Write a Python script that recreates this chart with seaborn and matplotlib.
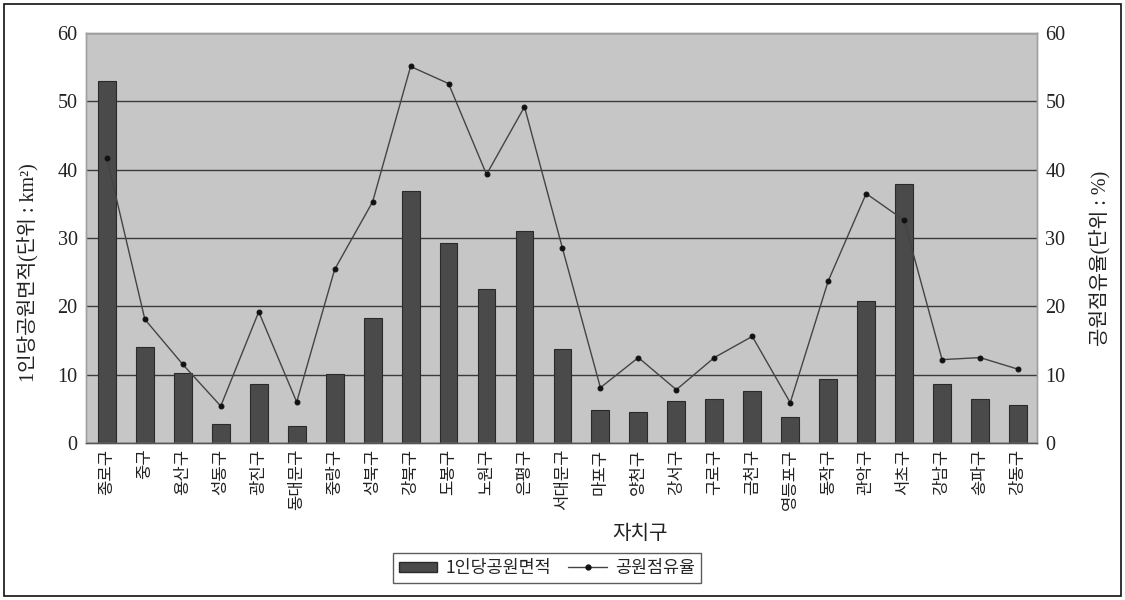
import matplotlib
matplotlib.use('Agg')
import matplotlib.pyplot as plt
import matplotlib.patches as mpatches
from matplotlib.lines import Line2D
import seaborn as sns
import pandas as pd

# ── data ───────────────────────────────────────────────────────────────────
districts = ['종로구', '중구', '용산구', '성동구', '광진구', '동대문구', '중랑구',
             '성북구', '강북구', '도봉구', '노원구', '은평구', '서대문구', '마포구',
             '양천구', '강서구', '구로구', '금천구', '영등포구', '동작구', '관악구',
             '서초구', '강남구', '송파구', '강동구']
park_area = [53.0, 14.1, 10.2, 2.8, 8.6, 2.5, 10.1, 18.3, 36.9, 29.2, 22.6, 31.0,
             13.7, 4.8, 4.5, 6.2, 6.4, 7.6, 3.8, 9.3, 20.8, 37.9, 8.7, 6.4, 5.6]
park_share = [41.7, 18.1, 11.5, 5.4, 19.2, 6.0, 25.4, 35.3, 55.1, 52.6, 39.3, 49.2,
              28.5, 8.1, 12.5, 7.8, 12.5, 15.6, 5.9, 23.7, 36.5, 32.6, 12.2, 12.5, 10.8]
y_ticks = [0, 10, 20, 30, 40, 50, 60]

df = pd.DataFrame({'구': districts, 'area': park_area, 'share': park_share})

# ── style ──────────────────────────────────────────────────────────────────
sns.set_style('white')
plt.rcParams['font.family'] = ['Liberation Serif', 'Noto Sans CJK KR', 'DejaVu Sans']
plt.rcParams['axes.unicode_minus'] = False

BG = '#c6c6c6'
BAR = '#4a4a4a'
GRID = '#3a3a3a'
TXT = '#222222'

fig = plt.figure(figsize=(11.25, 6), dpi=100)
ax = fig.add_axes([86 / 1125, 1 - 443 / 600, (1037 - 86) / 1125, (443 - 33) / 600])
ax.set_facecolor(BG)
ax.set_axisbelow(True)

sns.barplot(data=df, x='구', y='area', ax=ax, color=BAR, width=0.47,
            edgecolor='#2a2a2a', linewidth=0.8, saturation=1)
ax.set_ylim(0, 60)
ax.set_yticks(y_ticks)
ax.yaxis.grid(True, color=GRID, linewidth=1.0)
ax.xaxis.grid(False)

ax2 = ax.twinx()
sns.pointplot(data=df, x='구', y='share', ax=ax2, color='#444444',
              markers='o', markersize=3.5, linewidth=1.0)
for ln in ax2.lines:
    ln.set_markerfacecolor('#111111')
    ln.set_markeredgecolor('#111111')
ax2.set_ylim(0, 60)
ax2.set_yticks(y_ticks)
ax.set_xlim(-0.55, 24.5)

for a in (ax, ax2):
    for s in a.spines.values():
        s.set_color('#a0a0a0')
        s.set_linewidth(1.0)
    a.tick_params(axis='y', length=0, labelsize=14.5, pad=6, labelcolor=TXT)
ax2.spines['bottom'].set_color('#555555')

ax.tick_params(axis='x', length=0, pad=4)
ax.set_xticks(range(len(districts)))
ax.set_xticklabels(districts, rotation=90, fontsize=12,
                   family=['Noto Sans CJK KR'], color=TXT)

ax.set_ylabel('1인당공원면적(단위 : km²)', fontsize=14.5, color=TXT)
ax.yaxis.set_label_coords(-0.05, 0.415)
ax2.set_ylabel('공원점유율(단위 : %)', fontsize=14.5, color=TXT, rotation=90)
ax2.yaxis.set_label_coords(1.055, 0.45)
ax.set_xlabel('자치구', fontsize=14.5, color=TXT)
ax.xaxis.set_label_coords((640 - 86) / 951, -0.2)

# ── legend ─────────────────────────────────────────────────────────────────
handles = [
    mpatches.Patch(facecolor=BAR, edgecolor='#2a2a2a', label='1인당공원면적'),
    Line2D([0], [0], color='#444444', linewidth=1.0, marker='o', markersize=3.5,
           markerfacecolor='#111111', markeredgecolor='#111111', label='공원점유율'),
]
leg = fig.legend(handles=handles, loc='center', bbox_to_anchor=(547 / 1125, 1 - 568 / 600),
                 ncol=2, frameon=True, fancybox=False,
                 handlelength=2.2, handleheight=0.5, columnspacing=1.0,
                 handletextpad=0.5, borderpad=0.35,
                 prop={'family': ['Noto Sans CJK KR'], 'size': 12.5})
leg.get_frame().set_edgecolor('#333333')
leg.get_frame().set_linewidth(1.0)

# outer frame
fig.patches.append(mpatches.Rectangle((4 / 1125, 4 / 600), 1117 / 1125, 592 / 600,
                                      transform=fig.transFigure, fill=False,
                                      edgecolor='#111111', linewidth=1.2))

fig.savefig('out.png', dpi=100, facecolor='white')
